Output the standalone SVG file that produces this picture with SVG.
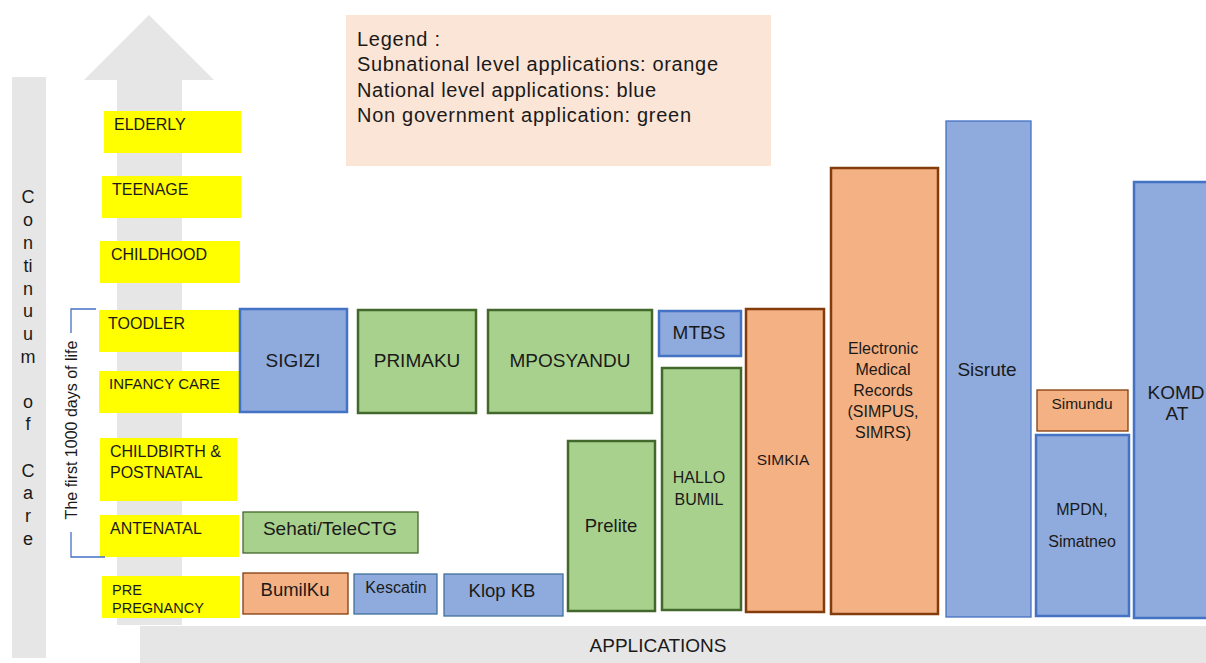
<svg xmlns="http://www.w3.org/2000/svg" width="1206" height="663" viewBox="0 0 1206 663">
<style>
text{font-family:"Liberation Sans",Arial,sans-serif;fill:#1a1a1a}
.gray{fill:#E7E6E6}
.yl{fill:#FFFF00}
.yt{font-size:16px}
.blue{fill:#8FAADC;stroke:#4472C4}
.green{fill:#A9D18E;stroke:#43682B}
.orange{fill:#F4B183;stroke:#843C0C}
.thick{stroke-width:2.5}
.thin{stroke-width:1.3}
.c{text-anchor:middle}
.l19{font-size:19px}
.l16{font-size:16px}
.leg{font-size:20px}
.cc{font-size:18px;text-anchor:middle}
</style>
<rect width="1206" height="663" fill="#FFFFFF"/>
<g id="continuum-bar">
<rect class="gray" x="12" y="77" width="34" height="581"/>
<text class="cc" x="28" y="203">C</text>
<text class="cc" x="28" y="226">o</text>
<text class="cc" x="28" y="249">n</text>
<text class="cc" x="28" y="272">ti</text>
<text class="cc" x="28" y="295">n</text>
<text class="cc" x="28" y="317">u</text>
<text class="cc" x="28" y="340">u</text>
<text class="cc" x="28" y="363">m</text>
<text class="cc" x="28" y="408">o</text>
<text class="cc" x="28" y="430">f</text>
<text class="cc" x="28" y="477">C</text>
<text class="cc" x="28" y="499">a</text>
<text class="cc" x="28" y="522">r</text>
<text class="cc" x="28" y="545">e</text>
</g>
<g id="life-arrow">
<polygon class="gray" points="149,15 214,80 182,80 182,625 117,625 117,80 84,80"/>
</g>
<g id="applications-bar">
<rect class="gray" x="140" y="626" width="1066" height="37"/>
<text class="c" x="658" y="652" font-size="19">APPLICATIONS</text>
</g>
<g id="legend">
<rect x="346" y="15" width="425" height="151" fill="#FBE5D6"/>
<text class="leg" x="357" y="46" textLength="83">Legend :</text>
<text class="leg" x="357" y="71" textLength="361">Subnational level applications: orange</text>
<text class="leg" x="357" y="97" textLength="299">National level applications: blue</text>
<text class="leg" x="357" y="122" textLength="334">Non government application: green</text>
</g>
<g id="stage-elderly"><rect class="yl" x="104" y="111" width="137" height="42"/><text class="yt" x="114" y="130">ELDERLY</text></g>
<g id="stage-teenage"><rect class="yl" x="102" y="176" width="139" height="42"/><text class="yt" x="112" y="195">TEENAGE</text></g>
<g id="stage-childhood"><rect class="yl" x="100" y="241" width="140" height="42"/><text class="yt" x="111" y="260">CHILDHOOD</text></g>
<g id="stage-toodler"><rect class="yl" x="99" y="310" width="141" height="42"/><text class="yt" x="108" y="329">TOODLER</text></g>
<g id="stage-infancy"><rect class="yl" x="99" y="371" width="141" height="42"/><text x="109" y="389" font-size="15" textLength="111">INFANCY CARE</text></g>
<g id="stage-childbirth"><rect class="yl" x="100" y="438" width="137" height="63"/><text class="yt" x="110" y="457">CHILDBIRTH &amp;</text><text class="yt" x="110" y="478">POSTNATAL</text></g>
<g id="stage-antenatal"><rect class="yl" x="100" y="515" width="139" height="42"/><text class="yt" x="110" y="534">ANTENATAL</text></g>
<g id="stage-prepregnancy"><rect class="yl" x="102" y="576" width="138" height="42"/><text x="112" y="595" font-size="14.5">PRE</text><text x="112" y="613" font-size="14.5">PREGNANCY</text></g>
<g id="connectors">
<path d="M96,309 H71 V333 M71,532 V557 H105" fill="none" stroke="#4472C4" stroke-width="1.3"/>
</g>
<g id="first-1000-days">
<text transform="translate(77,430) rotate(-90)" class="c" font-size="16">The first 1000 days of life</text>
</g>
<g id="app-sigizi"><rect class="blue thick" x="240" y="309" width="107" height="103"/><text class="c l19" x="293" y="367">SIGIZI</text></g>
<g id="app-primaku"><rect class="green thick" x="358" y="310" width="118" height="103"/><text class="c l19" x="417" y="367">PRIMAKU</text></g>
<g id="app-mposyandu"><rect class="green thick" x="488" y="310" width="164" height="103"/><text class="c l19" x="570" y="367">MPOSYANDU</text></g>
<g id="app-mtbs"><rect class="blue thick" x="659" y="311" width="82" height="45"/><text class="c l19" x="699" y="339">MTBS</text></g>
<g id="app-sehati"><rect class="green thin" x="243" y="512" width="175" height="41"/><text class="c l19" x="330" y="535">Sehati/TeleCTG</text></g>
<g id="app-bumilku"><rect class="orange thin" x="243" y="573" width="105" height="41"/><text class="c" x="295" y="596" font-size="18.5">BumilKu</text></g>
<g id="app-kescatin"><rect class="thin" fill="#8FAADC" stroke="#41719C" x="354" y="574" width="83" height="40"/><text class="c l16" x="396" y="593">Kescatin</text></g>
<g id="app-klopkb"><rect class="thin" fill="#8FAADC" stroke="#41719C" x="444" y="574" width="119" height="42"/><text class="c" x="502" y="597" font-size="18.5">Klop KB</text></g>
<g id="app-prelite"><rect class="green thick" x="568" y="441" width="87" height="170"/><text class="c" x="611" y="532" font-size="18.5">Prelite</text></g>
<g id="app-hallobumil"><rect class="green thick" x="662" y="368" width="79" height="242"/><text class="c l16" x="699" y="483">HALLO</text><text class="c l16" x="699" y="505">BUMIL</text></g>
<g id="app-simkia"><rect class="orange thick" x="746" y="309" width="78" height="303"/><text class="c" x="783" y="465" font-size="15.5">SIMKIA</text></g>
<g id="app-emr"><rect class="orange thick" x="831" y="168" width="107" height="446"/><text class="c l16" x="883" y="354">Electronic</text><text class="c l16" x="883" y="375">Medical</text><text class="c l16" x="883" y="396">Records</text><text class="c l16" x="883" y="417">(SIMPUS,</text><text class="c l16" x="883" y="438">SIMRS)</text></g>
<g id="app-sisrute"><rect class="blue thin" x="946" y="121" width="85" height="496"/><text class="c l19" x="987" y="376">Sisrute</text></g>
<g id="app-simundu"><rect class="orange thin" x="1037" y="390" width="91" height="41"/><text class="c" x="1082" y="409" font-size="15.5">Simundu</text></g>
<g id="app-mpdn"><rect class="blue thick" x="1036" y="435" width="93" height="181"/><text class="c l16" x="1082" y="515">MPDN,</text><text class="c l16" x="1082" y="547">Simatneo</text></g>
<g id="app-komdat"><rect class="blue thick" x="1134" y="182" width="80" height="436"/><text class="c l19" x="1176" y="399">KOMD</text><text class="c l19" x="1177" y="420">AT</text></g>
</svg>
